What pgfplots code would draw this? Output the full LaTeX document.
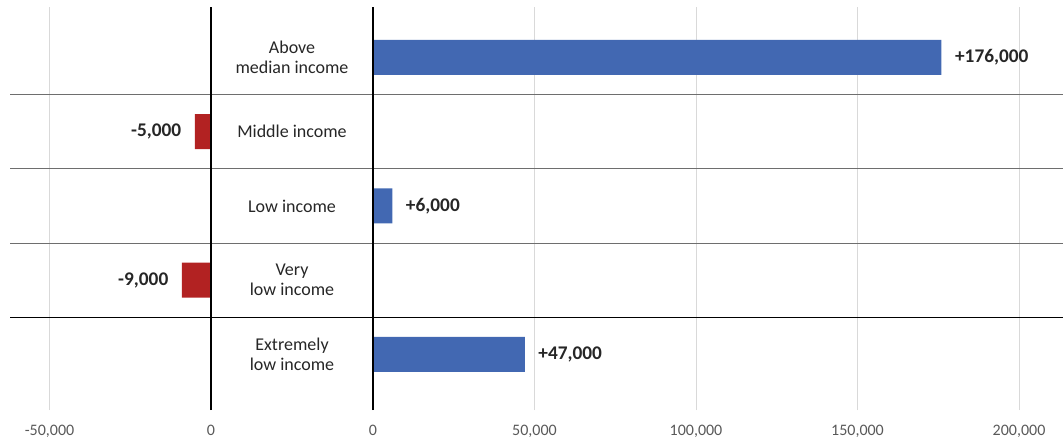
\documentclass[border=0pt]{standalone}
\usepackage{fontspec}
\setmainfont{Carlito}
\usepackage{pgfplots}
\pgfplotsset{compat=1.18}
\definecolor{barblue}{RGB}{66,104,178}
\definecolor{barred}{RGB}{178,34,34}
\definecolor{gridgray}{RGB}{217,217,217}
\definecolor{sepgray}{RGB}{110,110,110}
\definecolor{tickgray}{RGB}{89,89,89}
\definecolor{labelgray}{RGB}{38,38,38}
\pgfplotsset{myax/.style={
  scale only axis, anchor=south west, height=302.25pt,
  ymin=-0.75, ymax=4.68,
  axis line style={draw=none}, major tick length=0pt, ytick=\empty,
  xmajorgrids, grid style={gridgray, line width=0.75pt},
  xbar, bar width=26.25pt,
  xticklabel style={font=\fontsize{12}{14}\selectfont, text=tickgray, yshift=-8pt},
  clip=false,
  nodes near coords, point meta=explicit symbolic,
  every node near coord/.append style={font=\bfseries\fontsize{14.5}{17}\selectfont, text=labelgray, inner sep=0pt},
}}
\begin{document}
\begin{tikzpicture}
\path[use as bounding box] (0,0) rectangle (797.25pt,332.25pt);
\begin{axis}[myax, at={(7.5pt,24.75pt)}, width=272.25pt,
  xmin=-62229, xmax=50155,
  xtick={-50000,0}, xticklabels={{-50,000},{0}},
  every node near coord/.append style={anchor=east, xshift=-10pt}]
\addplot[fill=barred, draw=none] table[meta=label] {
x y label
-5000 3 -5,000
-9000 1 -9,000
};
\draw[sepgray, line width=0.75pt] (axis cs:-62229,3.5) -- (axis cs:50155,3.5);
\draw[sepgray, line width=0.75pt] (axis cs:-62229,2.5) -- (axis cs:50155,2.5);
\draw[sepgray, line width=0.75pt] (axis cs:-62229,1.5) -- (axis cs:50155,1.5);
\draw[black, line width=0.9pt] (axis cs:-62229,0.5) -- (axis cs:50155,0.5);
\draw[black, line width=1.5pt] (axis cs:0,-0.75) -- (axis cs:0,4.68);
\begin{scope}[every node/.style={align=center, text=labelgray, font=\fontsize{13.5}{15}\selectfont}]
\node at (axis cs:25077,4) {Above\\median income};
\node at (axis cs:25077,3) {Middle income};
\node at (axis cs:25077,2) {Low income};
\node at (axis cs:25077,1) {Very\\low income};
\node at (axis cs:25077,0) {Extremely\\low income};
\end{scope}
\end{axis}
\begin{axis}[myax, at={(279.75pt,24.75pt)}, width=517.5pt,
  xmin=0, xmax=213622,
  xtick={0,50000,100000,150000,200000},
  xticklabels={0,{50,000},{100,000},{150,000},{200,000}},
  every node near coord/.append style={anchor=west, xshift=10pt}]
\addplot[fill=barblue, draw=none] table[meta=label] {
x y label
176000 4 +176,000
6000 2 +6,000
47000 0 +47,000
};
\draw[sepgray, line width=0.75pt] (axis cs:0,3.5) -- (axis cs:213622,3.5);
\draw[sepgray, line width=0.75pt] (axis cs:0,2.5) -- (axis cs:213622,2.5);
\draw[sepgray, line width=0.75pt] (axis cs:0,1.5) -- (axis cs:213622,1.5);
\draw[black, line width=0.9pt] (axis cs:0,0.5) -- (axis cs:213622,0.5);
\draw[black, line width=1.5pt] (axis cs:0,-0.75) -- (axis cs:0,4.68);
\end{axis}
\end{tikzpicture}
\end{document}
